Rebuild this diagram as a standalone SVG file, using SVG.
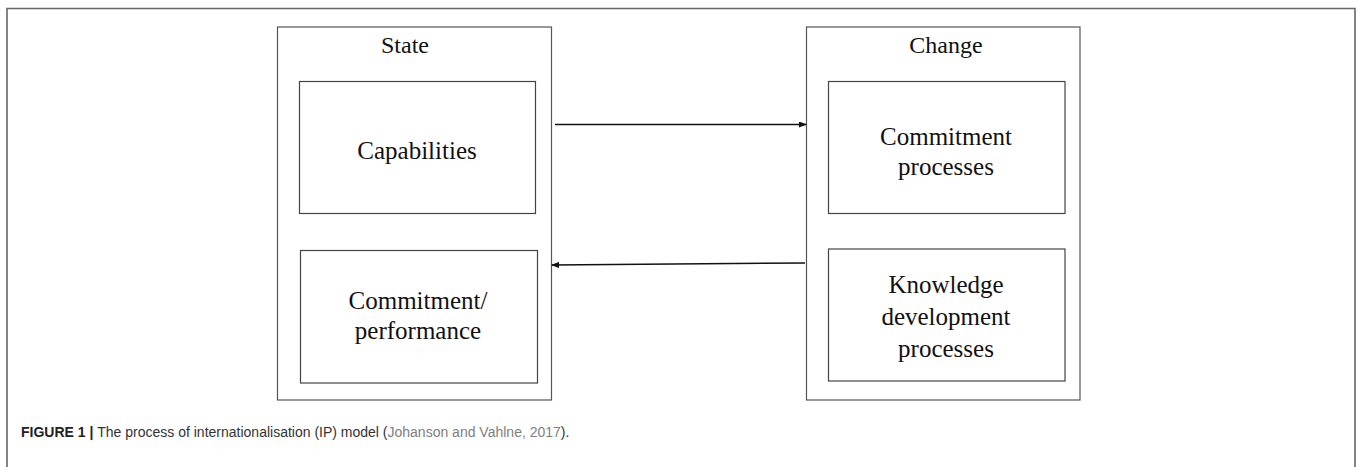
<svg xmlns="http://www.w3.org/2000/svg" width="1358" height="467" viewBox="0 0 1358 467">
<style>
.box{fill:#fff;stroke:#555;stroke-width:1.2}
.inner{fill:#fff;stroke:#444;stroke-width:1.2}
.t{font-family:"Liberation Serif","Times New Roman",serif;font-size:25px;fill:#111;text-anchor:middle}
.h{font-family:"Liberation Serif","Times New Roman",serif;font-size:24px;fill:#111;text-anchor:middle}
.conn{stroke:#111;stroke-width:1.5;fill:none}
.cap{font-family:"Liberation Sans",Arial,sans-serif;font-size:14px}
</style>
<defs>
<marker id="ah" markerWidth="8" markerHeight="6" refX="7" refY="3" orient="auto" markerUnits="userSpaceOnUse">
<path d="M0,0 L8,3 L0,6 Z" fill="#111"/>
</marker>
</defs>
<rect width="1358" height="467" fill="#fff"/>
<path d="M7,467 V8.5 H1355 V467" fill="none" stroke="#666" stroke-width="1.6"/>
<g id="state">
<rect class="box" x="277.5" y="27" width="274" height="373"/>
<text class="h" x="405" y="53">State</text>
</g>
<g id="capabilities">
<rect class="inner" x="299.5" y="81.5" width="236" height="132"/>
<text class="t" x="417" y="159">Capabilities</text>
</g>
<g id="commitment-performance">
<rect class="inner" x="300.5" y="250.5" width="237" height="132.5"/>
<text class="t" x="418" y="309">Commitment/</text>
<text class="t" x="418" y="339">performance</text>
</g>
<g id="change">
<rect class="box" x="806.5" y="27" width="273.5" height="373"/>
<text class="h" x="946" y="53">Change</text>
</g>
<g id="commitment-processes">
<rect class="inner" x="828.5" y="81.5" width="236.5" height="132"/>
<text class="t" x="946" y="145">Commitment</text>
<text class="t" x="946" y="175">processes</text>
</g>
<g id="knowledge-development">
<rect class="inner" x="828.5" y="249" width="236.5" height="132"/>
<text class="t" x="946" y="293">Knowledge</text>
<text class="t" x="946" y="325">development</text>
<text class="t" x="946" y="357">processes</text>
</g>
<g id="connectors">
<line class="conn" x1="555" y1="124.5" x2="806" y2="124.5" marker-end="url(#ah)"/>
<line class="conn" x1="805" y1="263" x2="552" y2="265" marker-end="url(#ah)"/>
</g>
<text class="cap" x="21" y="437"><tspan font-weight="bold" fill="#222">FIGURE 1 | </tspan><tspan fill="#333">The process of internationalisation (IP) model (</tspan><tspan fill="#808080">Johanson and Vahlne, 2017</tspan><tspan fill="#333">).</tspan></text>
</svg>
